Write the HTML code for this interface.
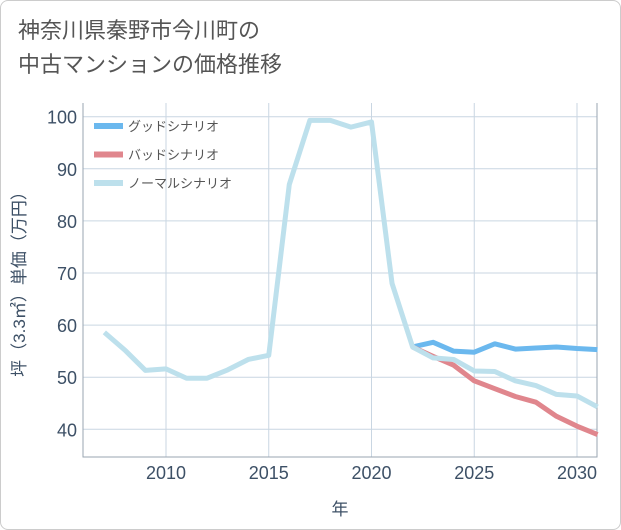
<!DOCTYPE html>
<html><head><meta charset="utf-8"><style>
body{margin:0;background:#fff;font-family:"Liberation Sans","Noto Sans CJK JP",sans-serif;}
#wrap{position:relative;width:619px;height:528px;border:1px solid #ccc;border-radius:8px;overflow:hidden;background:#fff}
#title{position:absolute;left:17px;top:13px;font-size:22px;line-height:34px;color:#555;}
</style></head><body>
<div id="wrap">
<div id="title">神奈川県秦野市今川町の<br>中古マンションの価格推移</div>
<svg id="chart" width="621" height="530" style="position:absolute;left:-1px;top:-1px"></svg>
</div>
<script>
const years=[2007,2008,2009,2010,2011,2012,2013,2014,2015,2016,2017,2018,2019,2020,2021,2022,2023,2024,2025,2026,2027,2028,2029,2030,2031];
const normalVals=[58.6,55.2,51.3,51.6,49.8,49.8,51.4,53.4,54.2,87,99.3,99.3,98,99,68,55.8,53.7,53.4,51.2,51.1,49.3,48.4,46.7,46.4,44.3];
const futureYears=[2022,2023,2024,2025,2026,2027,2028,2029,2030,2031];
const goodVals=[55.8,56.7,55,54.8,56.4,55.4,55.6,55.8,55.5,55.3];
const badVals=[55.8,54,52.3,49.3,47.8,46.3,45.2,42.5,40.6,39];
const yTicks=[40,50,60,70,80,90,100];
const xTicks=[2010,2015,2020,2025,2030];
const L=83,R=597,T=103,B=457;
const xs=y=>166+(y-2010)*20.55;
const ys=v=>116.7+(100-v)*5.21;
const svg=document.getElementById('chart');
const NS='http://www.w3.org/2000/svg';
function mk(t,a){const e=document.createElementNS(NS,t);for(const k in a)e.setAttribute(k,a[k]);svg.appendChild(e);return e;}
yTicks.forEach(v=>{
 const g=mk('line',{x1:L,x2:R,y1:ys(v),y2:ys(v),stroke:'#c9d6e2','stroke-width':1});
 
 
 const t=mk('text',{x:L-6,y:ys(v)+7,'text-anchor':'end','font-size':18,fill:'#3d5066'});t.textContent=v;
 
 
});
xTicks.forEach(v=>{
 const g=mk('line',{x1:xs(v),x2:xs(v),y1:T,y2:B,stroke:'#c9d6e2','stroke-width':1});
 
 
 const t=mk('text',{x:xs(v),y:B+22,'text-anchor':'middle','font-size':18,fill:'#3d5066'});t.textContent=v;
 
 
});
const ax=mk('path',{d:`M${L} ${T}V${B}H${R}V${T}`,fill:'none',stroke:'#9aa6b2','stroke-width':1});


function line(xv,yv,c,n){const p=mk('polyline',{points:xv.map((x,i)=>xs(x)+','+ys(yv[i])).join(' '),fill:'none',stroke:c,'stroke-width':5,'stroke-linejoin':'round'});
 
 }
line(futureYears,goodVals,'#6bb8ee','good-scenario-line');
line(futureYears,badVals,'#e0868d','bad-scenario-line');
line(years,normalVals,'#bde0ec','normal-scenario-line');
const leg=[['グッドシナリオ','#6bb8ee'],['バッドシナリオ','#e0868d'],['ノーマルシナリオ','#bde0ec']];
leg.forEach((l,i)=>{const y=126+i*28.5;
 const r=mk('rect',{x:94,y:y-3,width:29,height:6,fill:l[1]});
 
 
 const t=mk('text',{x:128,y:y+5,'font-size':13,fill:'#555'});t.textContent=l[0];
 
 
});
const yt=mk('text',{transform:'translate(25,280) rotate(-90)','text-anchor':'middle','font-size':17,fill:'#3d5066'});yt.textContent='坪（3.3㎡）単価（万円）';


const xt=mk('text',{x:340,y:515,'text-anchor':'middle','font-size':17,fill:'#3d5066'});xt.textContent='年';


</script>
</body></html>
